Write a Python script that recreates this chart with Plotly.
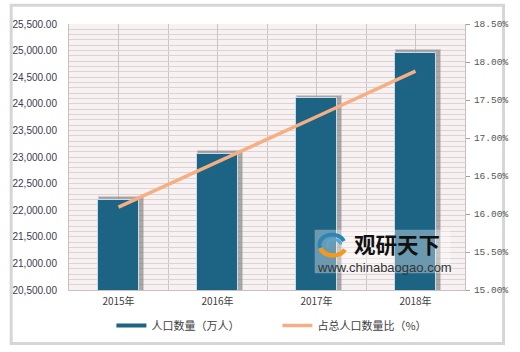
import math
import plotly.graph_objects as go

years = ["2015年", "2016年", "2017年", "2018年"]
population = [22190, 23050, 24100, 24950]      # 人口数量（万人）
share = [16.09, 16.68, 17.28, 17.88]           # 占总人口数量比（%）
left_ticks = [20500 + 500 * i for i in range(11)]
right_ticks = [15 + 0.5 * i for i in range(8)]

W, H = 520, 352
ML, MR, MT, MB = 64, 45, 24, 59
PW, PH = W - ML - MR, H - MT - MB

def px(x):
    return (x - ML) / PW

def py(y):
    return (H - MB - y) / PH

xs = list(range(len(years)))
BAR = "#1c6384"
LINE = "#f6ae84"

fig = go.Figure()

# soft shadow behind bars
fig.add_trace(go.Bar(
    x=[v + 0.025 for v in xs], y=[p + 55 for p in population], width=0.45,
    marker=dict(color="rgba(95,95,95,0.5)", line=dict(color="rgba(160,160,160,0.45)", width=2)),
    showlegend=False, hoverinfo="skip"))
fig.add_trace(go.Bar(
    x=xs, y=population, width=0.42, name="人口数量（万人）",
    marker=dict(color=BAR, line=dict(color="#c9dbe4", width=1)),
    showlegend=False))
fig.add_trace(go.Scatter(
    x=xs, y=share, yaxis="y2", mode="lines", name="占总人口数量比（%）",
    line=dict(color=LINE, width=3.5), showlegend=False))

# legend entries
fig.add_trace(go.Scatter(x=[None], y=[None], mode="lines", name="人口数量（万人）",
                         line=dict(color=BAR, width=4)))
fig.add_trace(go.Scatter(x=[None], y=[None], mode="lines", name="占总人口数量比（%）",
                         line=dict(color=LINE, width=3.5)))

hgrid = "#dcd3d3"
vgrid = "#cbc6c6"
fig.update_layout(
    width=W, height=H,
    margin=dict(l=ML, r=MR, t=MT, b=MB),
    paper_bgcolor="white", plot_bgcolor="#f8f1f1",
    barmode="overlay", bargap=0,
    font=dict(family="Noto Sans CJK SC", color="#404040"),
    xaxis=dict(
        range=[-0.5, 3.5], tickmode="array", tickvals=xs, ticktext=years,
        showgrid=True, gridcolor=vgrid, gridwidth=1,
        minor=dict(tickmode="array", tickvals=[-0.5, 0.5, 1.5, 2.5, 3.5], showgrid=True,
                   gridcolor=vgrid, gridwidth=1, ticks=""),
        showline=True, linecolor="#c8c0c0", linewidth=1,
        tickfont=dict(family="Noto Sans CJK SC", size=10, color="#404040"),
        ticks="", zeroline=False, fixedrange=True, ticklabelstandoff=2),
    yaxis=dict(
        range=[20500, 25500], tickmode="array", tickvals=left_ticks,
        tickformat=",.2f", showgrid=True, gridcolor=hgrid, gridwidth=1,
        minor=dict(dtick=100, tick0=20500, showgrid=True, gridcolor=hgrid, gridwidth=1),
        tickfont=dict(family="Liberation Sans", size=10, color="#3a3a50"),
        ticks="", zeroline=False, ticklabelstandoff=9,
        showline=True, linecolor="#c8c0c0", linewidth=1),
    yaxis2=dict(
        range=[15, 18.5], tickmode="array", tickvals=right_ticks,
        ticktext=["%.2f%%" % t for t in right_ticks],
        overlaying="y", side="right",
        showgrid=False, zeroline=False,
        ticks="outside", ticklen=4, tickcolor="#a0a0a0",
        showline=True, linecolor="#c8c0c0", linewidth=1,
        tickfont=dict(family="Liberation Mono", size=9.5, color="#555555"),
        ticklabelstandoff=2),
    legend=dict(orientation="h", x=px(108), y=py(329), xanchor="left", yanchor="middle",
                entrywidth=121, entrywidthmode="pixels",
                font=dict(family="Noto Sans CJK SC", size=11, color="#404040"),
                bgcolor="rgba(0,0,0,0)", itemwidth=30),
    showlegend=True,
)

# outer frame
fig.add_shape(type="rect", xref="paper", yref="paper",
              x0=px(4), x1=px(515), y0=py(347), y1=py(5),
              line=dict(color="#d6d6d6", width=3), fillcolor="rgba(0,0,0,0)", layer="below")

# watermark backdrop
fig.add_shape(type="rect", xref="paper", yref="paper",
              x0=px(319), x1=px(460), y0=py(276), y1=py(232),
              line=dict(width=0), fillcolor="rgba(255,255,255,0.35)")

# watermark logo (swirl arcs)
def arc(cx, cy, rx, ry, a0, a1, n=24):
    pts = []
    for i in range(n + 1):
        a = math.radians(a0 + (a1 - a0) * i / n)
        pts.append((px(cx + rx * math.cos(a)), py(cy - ry * math.sin(a))))
    return "M " + " L ".join("%.4f,%.4f" % p for p in pts)

fig.add_shape(type="path", xref="paper", yref="paper",
              path=arc(337, 247, 13, 10, 20, 200), line=dict(color="#2b86b8", width=4))
fig.add_shape(type="path", xref="paper", yref="paper",
              path=arc(339, 247, 7, 5, 0, 220), line=dict(color="#5aa6cf", width=3))
fig.add_shape(type="path", xref="paper", yref="paper",
              path=arc(338, 249, 13, 9, 190, 340), line=dict(color="#f39a1e", width=4.5))

fig.add_annotation(xref="paper", yref="paper", x=px(359), y=py(246), xanchor="left",
                   yanchor="middle", showarrow=False, borderpad=0,
                   text="<b>观研天下</b>", font=dict(family="Noto Sans CJK SC", size=21.5, color="#111111"))
fig.add_annotation(xref="paper", yref="paper", x=px(320), y=py(270), xanchor="left",
                   yanchor="middle", showarrow=False, borderpad=0,
                   text="www.chinabaogao.com", font=dict(family="Liberation Sans", size=13, color="#333333"))

fig.write_html("out.html")
